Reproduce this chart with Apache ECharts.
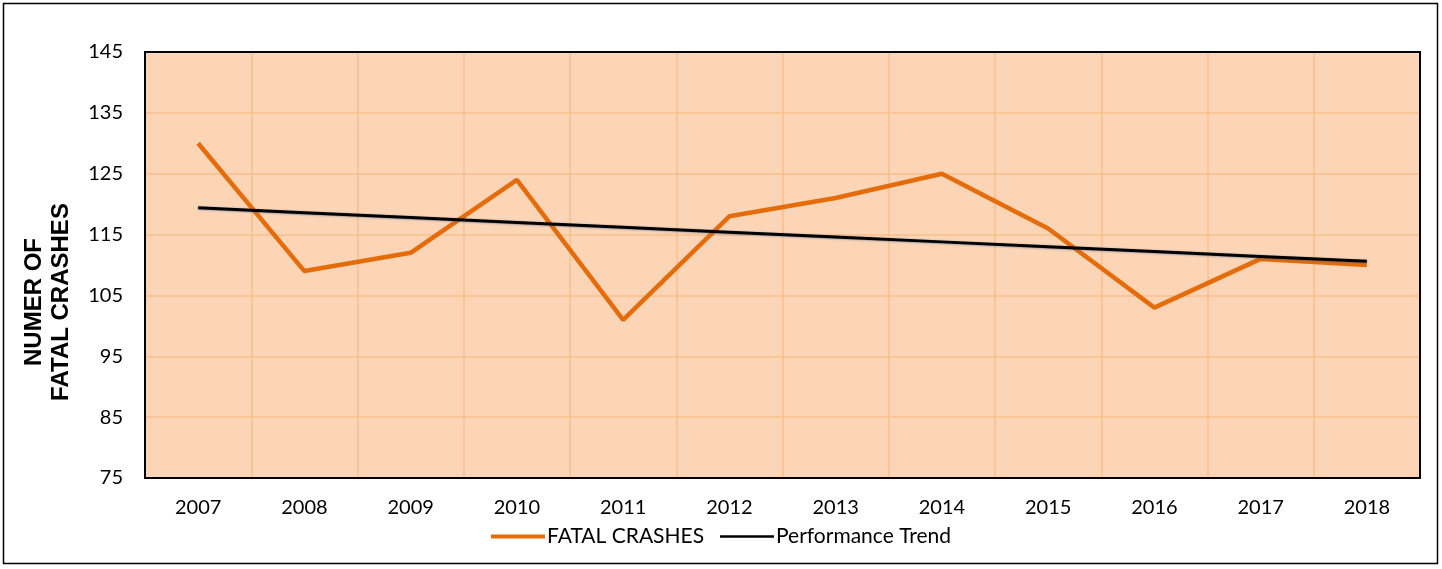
<!DOCTYPE html>
<html>
<head>
<meta charset="utf-8">
<script src="https://cdn.jsdelivr.net/npm/echarts@6/dist/echarts.min.js"></script>
<style>
  html, body { margin: 0; padding: 0; background: #fff; }
  #chart { width: 1442px; height: 569px; }
</style>
</head>
<body>
<div id="chart"></div>
<script>
// years on the x axis
const years = ['2007', '2008', '2009', '2010', '2011', '2012', '2013', '2014', '2015', '2016', '2017', '2018'];
// fatal crashes per year
const fatalCrashes = [130, 109, 112, 124, 101, 118, 121, 125, 116, 103, 111, 110];
// trend line
const performanceTrend = [119.4, 118.6, 117.8, 117.0, 116.2, 115.4, 114.6, 113.8, 113.0, 112.2, 111.4, 110.6];

const myChart = echarts.init(document.getElementById('chart'));

const option = {
  backgroundColor: '#fff',
  animation: false,
  textStyle: { fontFamily: 'Lato' },
  grid: {
    left: 145,
    right: 22,
    top: 52,
    bottom: 91,
    show: true,
    backgroundColor: '#FBD5B5',
    borderWidth: 0
  },
  graphic: [
    {
      type: 'rect',
      shape: { x: 3.5, y: 3.5, width: 1434, height: 560 },
      style: { fill: 'none', stroke: '#000', lineWidth: 1.5 }
    },
    {
      // plot frame
      type: 'rect',
      z: 100,
      shape: { x: 145, y: 52, width: 1275, height: 426 },
      style: { fill: 'none', stroke: '#000', lineWidth: 2 }
    },
    {
      type: 'text',
      x: 48,
      y: 302,
      rotation: Math.PI / 2,
      style: {
        text: 'NUMER OF\nFATAL CRASHES',
        font: 'bold 24px "Liberation Sans"',
        fill: '#000',
        align: 'center',
        verticalAlign: 'middle',
        lineHeight: 27
      }
    }
  ],
  legend: {
    top: 521,
    left: 'center',
    itemWidth: 54,
    itemHeight: 4,
    itemGap: 16,
    icon: 'rect',
    textStyle: { fontSize: 21, color: '#000', fontFamily: 'Lato', padding: [0, 0, 0, -3] },
    data: [
      { name: 'FATAL CRASHES', itemStyle: { color: '#E46C0A' } },
      { name: 'Performance Trend', itemStyle: { color: '#000' }, icon: 'path://M0,0 L54,0 L54,2.4 L0,2.4 Z' }
    ]
  },
  xAxis: {
    type: 'category',
    data: years,
    boundaryGap: true,
    axisLine: { show: false },
    axisTick: { show: false },
    axisLabel: { fontSize: 20, color: '#000', margin: 20 },
    splitLine: { show: true, interval: 0, lineStyle: { color: '#F9BE8C', width: 1.5 } }
  },
  yAxis: {
    type: 'value',
    min: 75,
    max: 145,
    interval: 10,
    axisLine: { show: false },
    axisTick: { show: false },
    axisLabel: { fontSize: 20, color: '#000', margin: 22 },
    splitLine: { lineStyle: { color: '#F9BE8C', width: 1.5 } }
  },
  series: [
    {
      name: 'FATAL CRASHES',
      type: 'line',
      data: fatalCrashes,
      symbol: 'none',
      lineStyle: { color: '#E46C0A', width: 4.5 },
      itemStyle: { color: '#E46C0A' }
    },
    {
      name: 'Performance Trend',
      type: 'line',
      data: performanceTrend,
      symbol: 'none',
      lineStyle: {
        color: '#000',
        width: 3,
        shadowColor: 'rgba(60,90,140,0.6)',
        shadowBlur: 2,
        shadowOffsetY: 0.5
      },
      itemStyle: { color: '#000' }
    }
  ]
};

myChart.setOption(option);
</script>
</body>
</html>
